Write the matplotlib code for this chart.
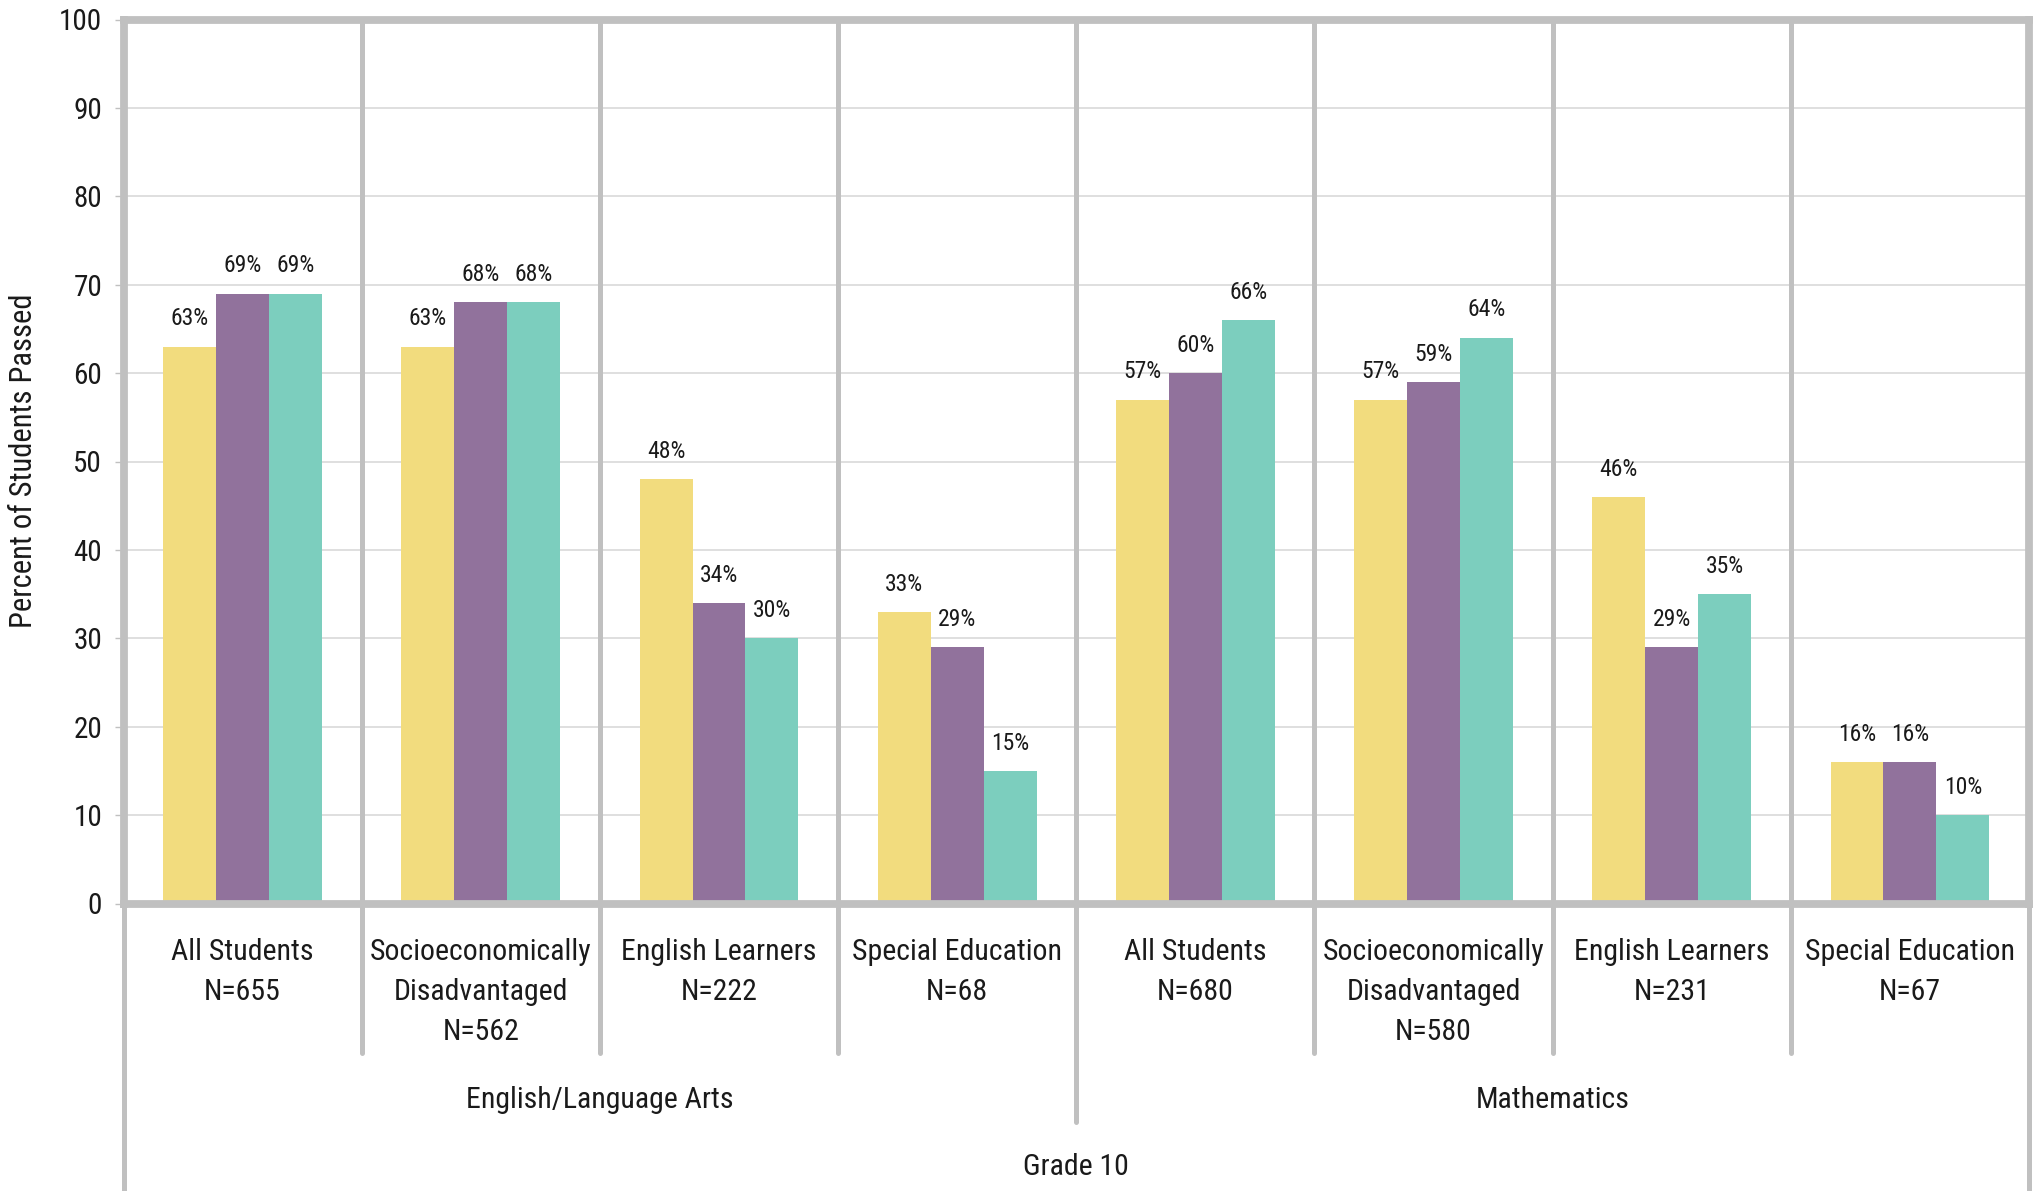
import numpy as np
import matplotlib
matplotlib.use("Agg")
import matplotlib.pyplot as plt
import matplotlib.transforms as mtransforms
from matplotlib import font_manager

# 사용 가능한 좁은 글꼴 선택
_names = {f.name for f in font_manager.fontManager.ttflist}
FONT = next((n for n in ["Liberation Sans Narrow", "DejaVu Sans Condensed",
                         "Roboto Condensed", "Liberation Sans"] if n in _names),
            "DejaVu Sans")
plt.rcParams["font.family"] = [FONT, "DejaVu Sans"]

# ---- data ----
categories = ["All Students\nN=655",
              "Socioeconomically\nDisadvantaged\nN=562",
              "English Learners\nN=222",
              "Special Education\nN=68",
              "All Students\nN=680",
              "Socioeconomically\nDisadvantaged\nN=580",
              "English Learners\nN=231",
              "Special Education\nN=67"]
subjects = ["English/Language Arts", "Mathematics"]
grade_label = "Grade 10"
yellow_vals = [63, 63, 48, 33, 57, 57, 46, 16]
purple_vals = [69, 68, 34, 29, 60, 59, 29, 16]
teal_vals = [69, 68, 30, 15, 66, 64, 35, 10]

series = [yellow_vals, purple_vals, teal_vals]
colors = ["#F2DC7E", "#91729C", "#7CCEBE"]
FRAME = "#C0C0C0"
W, H = 2036, 1191

fig = plt.figure(figsize=(W / 100, H / 100), dpi=100)
x0, x1 = 123.5 / W, 2029 / W
y_top, y_bot = 19.5 / H, 903.5 / H
ax = fig.add_axes([x0, 1 - y_bot, x1 - x0, y_bot - y_top])

n = len(categories)
bw = 2 / 9
xc = np.arange(n) + 0.5
for j, vals in enumerate(series):
    xs = xc + (j - 1) * bw
    ax.bar(xs, vals, width=bw, color=colors[j], zorder=3)
    for xx, v in zip(xs, vals):
        ax.annotate(f"{v}%", (xx, v), xytext=(0, 20), textcoords="offset points",
                    ha="center", va="center", fontsize=17, color="#1a1a1a", zorder=5)

ax.set_xlim(0, n)
ax.set_ylim(0, 100)
ax.set_yticks(np.arange(0, 101, 10))
ax.set_xticks([])
ax.tick_params(axis="y", length=6.8, width=1, color=FRAME, pad=8.6,
               labelsize=21, labelcolor="#1a1a1a")
ax.yaxis.grid(True, color="#D9D9D9", linewidth=1.2, zorder=0)
ax.set_axisbelow(True)
for sp in ax.spines.values():
    sp.set_color(FRAME)
    sp.set_linewidth(5.6)
    sp.set_zorder(4)

# 구분선 (x: data, y: figure)
trans = mtransforms.blended_transform_factory(ax.transData, fig.transFigure)
fy = lambda px: 1 - px / H
for i in range(1, n):
    bottom = 1122 if i == n // 2 else 1053
    ax.plot([i, i], [fy(19.5), fy(bottom)], transform=trans, color=FRAME,
            lw=3.6, solid_capstyle="round", clip_on=False, zorder=4)
for xe in (0, n):
    ax.plot([xe, xe], [fy(903), fy(H + 5)], transform=trans, color=FRAME,
            lw=3.6, clip_on=False, zorder=4)

# 범주 라벨
for i, lab in enumerate(categories):
    ax.text(i + 0.5, fy(938), lab, transform=trans, ha="center", va="top",
            fontsize=21.5, linespacing=1.54, color="#1a1a1a")
for k, s in enumerate(subjects):
    ax.text(k * n / 2 + n / 4, fy(1100), s, transform=trans, ha="center",
            va="center", fontsize=21.5, color="#1a1a1a")
ax.text(n / 2, fy(1167), grade_label, transform=trans, ha="center",
        va="center", fontsize=21.5, color="#1a1a1a")

fig.text(24 / W, fy(461), "Percent of Students Passed", rotation=90,
         ha="center", va="center", fontsize=22, color="#1a1a1a")

fig.savefig("out.png", dpi=100)
